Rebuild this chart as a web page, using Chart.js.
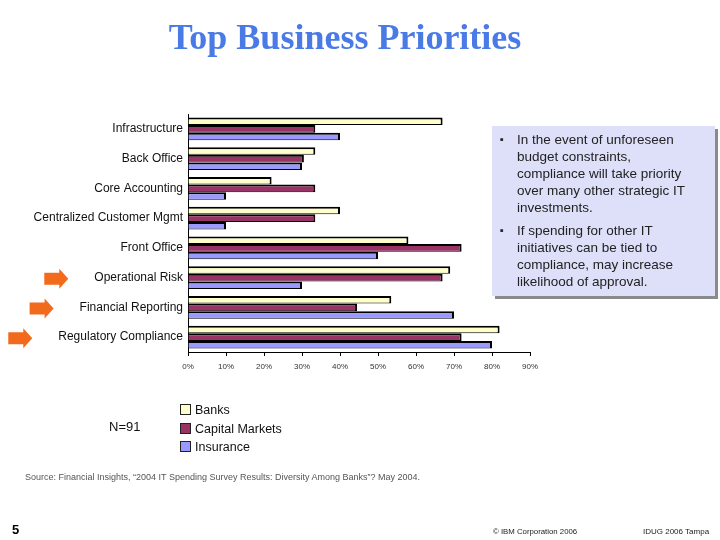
<!DOCTYPE html>
<html>
<head>
<meta charset="utf-8">
<script src="https://cdn.jsdelivr.net/npm/chart.js@4"></script>
<style>
  body { margin: 0; background: #fff; font-family: "Liberation Sans", Arial, sans-serif; }
  #slide { position: relative; width: 720px; height: 540px; overflow: hidden; }
  #chart { position: absolute; left: 0; top: 0; }
  .abs { position: absolute; white-space: nowrap; }
  #title { left: 0; width: 690px; top: 16px; text-align: center; font: bold 36px "Liberation Serif", "Times New Roman", serif; color: #4a7ae6; }
  #note { left: 492px; top: 126px; width: 223px; height: 170px; background: #dde0f8; box-shadow: 3px 3px 0 #8a8a8a; box-sizing: border-box; padding: 5px 26px 0 8px; font-size: 13.5px; line-height: 17px; color: #222; white-space: normal; }
  #note .item { position: relative; padding-left: 17px; margin-bottom: 6px; }
  #note .item::before { content: "\25AA"; position: absolute; left: 0; top: 0; font-size: 11px; }
  #legend { left: 180px; top: 401px; font-size: 12.5px; line-height: 18.5px; color: #111; }
  #legend .sw { display: inline-block; width: 9px; height: 9px; border: 1px solid #222; margin-right: 4px; vertical-align: -1px; }
  #n { left: 109px; top: 419px; font-size: 13px; color: #111; }
  #source { left: 25px; top: 472px; font-size: 9px; color: #555; }
  #page { left: 12px; top: 522px; font-size: 13px; font-weight: bold; }
  #copy { left: 493px; top: 527px; font-size: 7.8px; color: #222; }
  #event { left: 643px; top: 527px; font-size: 8px; color: #222; }
</style>
</head>
<body>
<div id="slide">
  <canvas id="chart" width="720" height="540"></canvas>
  <div id="title" class="abs">Top Business Priorities</div>
  <div id="note" class="abs"></div>
  <div id="legend" class="abs"></div>
  <div id="n" class="abs">N=91</div>
  <div id="source" class="abs">Source: Financial Insights, “2004 IT Spending Survey Results: Diversity Among Banks”? May 2004.</div>
  <div id="page" class="abs">5</div>
  <div id="copy" class="abs">© IBM Corporation 2006</div>
  <div id="event" class="abs">IDUG 2006 Tampa</div>
</div>
<script>
/* ===================== DATA ===================== */

const categories = [
  "Infrastructure",
  "Back Office",
  "Core Accounting",
  "Centralized Customer Mgmt",
  "Front Office",
  "Operational Risk",
  "Financial Reporting",
  "Regulatory Compliance",
];

const seriesNames = ["Banks", "Capital Markets", "Insurance"];

const banks = [67, 33.5, 22, 40, 58, 69, 53.5, 82];
const capitalMarkets = [33.5, 30.5, 33.5, 33.5, 72, 67, 44.5, 72];
const insurance = [40, 30, 10, 10, 50, 30, 70, 80];

const xTicks = [0, 10, 20, 30, 40, 50, 60, 70, 80, 90];

const highlighted = ["Operational Risk", "Financial Reporting", "Regulatory Compliance"];

const notes = [
  "In the event of unforeseen budget constraints, compliance will take priority over many other strategic IT investments.",
  "If spending for other IT initiatives can be tied to compliance, may increase likelihood of approval.",
];

/* ===================== COLORS ===================== */

const SERIES_COLORS = [
  "#ffffcc", // banks
  "#993366", // capital markets
  "#9999ff", // insurance
];

const LABEL_FONT = "12px 'Liberation Sans', Arial, sans-serif";

/* ===================== SIDE TEXT + LEGEND ===================== */

document.getElementById("note").innerHTML = notes
  .map((t) => `<div class="item">${t}</div>`)
  .join("");

document.getElementById("legend").innerHTML = seriesNames
  .map((name, i) =>
    `<div><span class="sw" style="background:${SERIES_COLORS[i]}"></span>${name}</div>`)
  .join("");

/* ===================== ARROWS PLUGIN ===================== */

// orange arrows left of the highlighted category labels
const arrowPlugin = {
  id: "arrows",
  afterDraw(chart) {
    const { ctx } = chart;
    const y = chart.scales.y;
    ctx.save();
    ctx.font = LABEL_FONT;
    ctx.fillStyle = "#f26b1d";
    highlighted.forEach((name) => {
      const idx = categories.indexOf(name);
      const cy = y.getPixelForValue(idx) + 1;
      const right = y.right - 5 - ctx.measureText(name).width - 26;
      const left = right - 24;
      ctx.beginPath();
      ctx.moveTo(left, cy - 6);
      ctx.lineTo(right - 9, cy - 6);
      ctx.lineTo(right - 9, cy - 10);
      ctx.lineTo(right, cy);
      ctx.lineTo(right - 9, cy + 10);
      ctx.lineTo(right - 9, cy + 6);
      ctx.lineTo(left, cy + 6);
      ctx.closePath();
      ctx.fill();
    });
    ctx.restore();
  },
};

/* ===================== CHART ===================== */

const datasets = [banks, capitalMarkets, insurance].map((values, i) => ({
  label: seriesNames[i],
  data: values,
  backgroundColor: SERIES_COLORS[i],
  borderColor: "#000",
  borderWidth: { top: 2, right: 2, bottom: 1, left: 0 },
  borderSkipped: false,
  categoryPercentage: 0.76,
  barPercentage: 1,
}));

new Chart(document.getElementById("chart"), {
  type: "bar",
  data: { labels: categories, datasets },
  plugins: [arrowPlugin],
  options: {
    indexAxis: "y",
    responsive: false,
    animation: false,
    layout: { padding: { top: 114, right: 190, bottom: 163, left: 0 } },
    plugins: {
      legend: { display: false },
      tooltip: { enabled: false },
    },
    scales: {
      y: {
        grid: { display: false, drawTicks: false },
        border: { display: true, color: "#000", width: 1 },
        ticks: {
          padding: 5,
          color: "#111",
          font: { family: "'Liberation Sans', Arial, sans-serif", size: 12 },
        },
        afterFit: (scale) => { scale.width = 188; },
      },
      x: {
        min: xTicks[0],
        max: xTicks[xTicks.length - 1],
        afterBuildTicks: (scale) => {
          scale.ticks = xTicks.map((v) => ({ value: v }));
        },
        grid: {
          drawOnChartArea: false,
          drawTicks: true,
          tickLength: 4,
          tickColor: "#000",
        },
        border: { display: true, color: "#000", width: 1 },
        ticks: {
          padding: 6,
          color: "#333",
          font: { family: "'Liberation Sans', Arial, sans-serif", size: 8 },
          callback: (v) => v + "%",
        },
        afterFit: (scale) => { scale.height = 25; },
      },
    },
  },
});
</script>
</body>
</html>
